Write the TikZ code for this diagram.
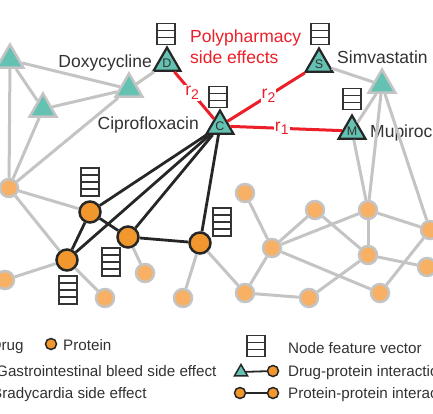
\documentclass[tikz,border=0pt]{standalone}
\usepackage{fontspec}
\setmainfont{Liberation Sans}
\usetikzlibrary{shapes.geometric}

\definecolor{drugteal}{RGB}{100,194,178}
\definecolor{protlight}{RGB}{247,176,100}
\definecolor{protdark}{RGB}{242,150,46}
\definecolor{edgegray}{RGB}{196,196,196}
\definecolor{sered}{RGB}{236,30,40}
\definecolor{txt}{RGB}{50,50,50}

% feature vector: name, x, y, rows
\newcommand{\featvec}[4]{%
  \coordinate (#1) at (#2,#3);
  \draw[fvec] (#2-9,#3-#4*3.5) rectangle (#2+9,#3+#4*3.5);
  \foreach \k in {1,...,#4}
    \draw[fvec] (#2-9,#3-#4*3.5+\k*7) -- (#2+9,#3-#4*3.5+\k*7);
}
% relation name with subscript
\newcommand{\relr}[1]{r\raisebox{-0.4ex}{\fontsize{14}{14}\selectfont #1}}

\begin{document}
\begin{tikzpicture}[x=1pt,y=-1pt,
  every node/.style={text=txt},
  lbl/.style={inner sep=0pt,font=\fontsize{17.5}{20}\selectfont},
  leg/.style={inner sep=0pt,anchor=base west,font=\fontsize{15.2}{18}\selectfont},
  drug/.style={regular polygon,regular polygon sides=3,minimum size=31pt,inner sep=0pt,
    fill=drugteal,draw=edgegray,line width=2.5pt},
  drugsel/.style={drug,draw=black!85,line width=2.2pt,font=\fontsize{12.5}{12.5}\selectfont},
  prot/.style={circle,minimum size=18pt,inner sep=0pt,fill=protlight,draw=edgegray,line width=2.5pt},
  protsel/.style={prot,minimum size=21pt,fill=protdark,draw=black!85},
  gedge/.style={edgegray,line width=3pt},
  bedge/.style={black!85,line width=2.8pt},
  redge/.style={sered,line width=3pt},
  rlab/.style={text=sered,fill=white,inner sep=1pt,font=\fontsize{17.5}{20}\selectfont},
  fvec/.style={draw=black!80,line width=1.7pt},
  legtri/.style={regular polygon,regular polygon sides=3,minimum size=15pt,inner sep=0pt,
    fill=drugteal,draw=black!85,line width=1.5pt},
  legprot/.style={circle,minimum size=11pt,inner sep=0pt,fill=protdark,draw=black!85,line width=1.5pt}
]
\useasboundingbox (0,0) rectangle (433,414);

% drugs
\node[drug] (t1) at (10,60) {};
\node[drug] (t2) at (43,109) {};
\node[drug] (t3) at (129,89) {};
\node[drug] (t4) at (382,85) {};
\node[drugsel] (dox) at (167,63) {D};
\node[drugsel] (cip) at (220,126) {C};
\node[drugsel] (sim) at (319,64) {S};
\node[drugsel] (mup) at (352,131) {M};

\node[lbl,anchor=base east] (doxl) at (152,68) {Doxycycline};
\node[lbl,anchor=base east] (cipl) at (199,130) {Ciprofloxacin};
\node[lbl,anchor=base west] (siml) at (337,64) {Simvastatin};
\node[lbl,anchor=base west] (mupl) at (370,138) {Mupirocin};

\node[lbl,anchor=base west,text=sered] (poly) at (190,43) {Polypharmacy};
\node[lbl,anchor=base west,text=sered] (sidef) at (190,64) {side effects};

% proteins
\node[prot] (l1) at (9,188) {};
\node[prot] (l2) at (5,280) {};
\node[prot] (l3) at (105,298) {};
\node[prot] (l4) at (145,273) {};
\node[prot] (l5) at (183,298) {};
\node[protsel] (pa) at (90,212) {};
\node[protsel] (pb) at (67,260) {};
\node[protsel] (pc) at (128,237) {};
\node[protsel] (pd) at (200,243) {};
\node[prot] (qa) at (245,193) {};
\node[prot] (qb) at (315,210) {};
\node[prot] (qc) at (368,210) {};
\node[prot] (qd) at (430,230) {};
\node[prot] (qe) at (272,248) {};
\node[prot] (qf) at (368,255) {};
\node[prot] (qg) at (427,267) {};
\node[prot] (qh) at (245,293) {};
\node[prot] (qi) at (309,298) {};
\node[prot] (qj) at (380,293) {};

% gray edges
\foreach \a/\b in {t1/t2,t1/t3,t2/t3,t3/dox,t1/l1,t2/l1,t3/l1,l1/pa,l1/pb,pb/l2,pb/l3,
    pc/l4,pd/l5,pd/qh,sim/t4,mup/t4,t4/qc,t4/qd,mup/qc,qa/qe,qb/qe,qe/qc,qe/qj,qe/qh,
    qh/qi,qi/qf,qb/qf,qc/qf,qc/qd,qf/qg,qj/qd}
  \draw[gedge] (\a) -- (\b);

% drug-protein and protein-protein edges
\foreach \a/\b in {cip/pa,cip/pb,cip/pc,cip/pd,pa/pb,pa/pc,pc/pd}
  \draw[bedge] (\a) -- (\b);

% side effects
\draw[redge] (dox) -- node[rlab,pos=0.45] (r2a) {\relr{2}} (cip);
\draw[redge] (cip) -- node[rlab,pos=0.53] (r2b) {\relr{2}} (sim);
\draw[redge] (cip) -- node[rlab,pos=0.46] (r1a) {\relr{1}} (mup);

% feature vectors
\featvec{fvdox}{166}{34}{3}
\featvec{fvcip}{218}{97}{3}
\featvec{fvsim}{320}{34}{3}
\featvec{fvmup}{352}{99}{3}
\featvec{fva}{90}{182}{4}
\featvec{fvb}{68}{290}{4}
\featvec{fvc}{111}{262}{4}
\featvec{fvd}{222}{222}{4}

% legend
\node[leg] (legdrug) at (-9.5,350) {Drug};
\node[legprot] (legp) at (51,344) {};
\node[leg] (legprot) at (63,350) {Protein};
\node[leg] (leggi) at (-4,376) {Gastrointestinal bleed side effect};
\node[leg] (legbr) at (-8,398) {Bradycardia side effect};

\featvec{fvleg}{256}{346}{3}
\node[leg] (legfv) at (288,353) {Node feature vector};
\node[legtri] (legt1) at (241,372) {};
\node[legprot] (legp1) at (273,371) {};
\draw[black!85,line width=1.8pt] (legt1) -- (legp1);
\node[leg] (legdp) at (288,376) {Drug-protein interaction};
\node[legprot] (legp2) at (240,393) {};
\node[legprot] (legp3) at (273,393) {};
\draw[black!85,line width=1.8pt] (legp2) -- (legp3);
\node[leg] (legpp) at (288,398) {Protein-protein interaction};

\end{tikzpicture}
\end{document}
